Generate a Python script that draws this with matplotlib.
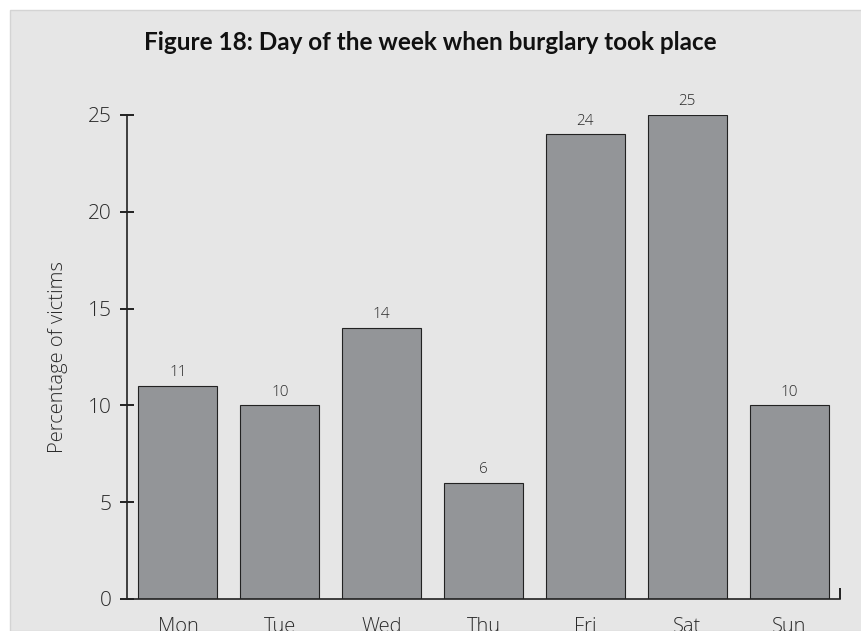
import numpy as np
import matplotlib.pyplot as plt
from matplotlib.patches import Rectangle

days = ['Mon', 'Tue', 'Wed', 'Thu', 'Fri', 'Sat', 'Sun']
percent = [11, 10, 14, 6, 24, 25, 10]
yticks = [0, 5, 10, 15, 20, 25]

plt.rcParams['font.family'] = ['Open Sans', 'DejaVu Sans']

fig = plt.figure(figsize=(8.61, 6.31), dpi=100, facecolor='white')
# grey panel behind the chart
fig.patches.append(Rectangle((10 / 861, 0), 1, 1 - 10 / 631, transform=fig.transFigure,
                             facecolor='#e6e6e6', edgecolor='#d4d4d4', linewidth=1, zorder=-5))

ax = fig.add_axes([127 / 861, 1 - 599 / 631, (840 - 127) / 861, (599 - 115) / 631])
ax.set_facecolor('none')
ax.set_zorder(2)

x = np.arange(len(days))
bars = ax.bar(x, percent, width=0.775, color='#939598', edgecolor='#222222', linewidth=0.8, zorder=2)
for xi, v in zip(x, percent):
    ax.text(xi, v + 0.3, str(v), ha='center', va='bottom', fontsize=11, color='#2a2a2a', fontweight='light')

ax.set_xlim(-0.5, 6.5)
ax.set_ylim(0, 25)
ax.set_yticks(yticks)
ax.set_xticks(x)
ax.set_xticklabels(days, fontsize=14.5, color='#2a2a2a', fontweight='light')
ax.tick_params(axis='x', length=0, pad=13)
ax.tick_params(axis='y', direction='inout', length=10, width=1.2, labelsize=15, labelcolor='#2a2a2a', pad=6)
for lab in ax.get_yticklabels():
    lab.set_fontweight('light')
ax.set_xticks([6.5], minor=True)
ax.tick_params(axis='x', which='minor', direction='in', length=8, width=1.2)

for s in ['top', 'right']:
    ax.spines[s].set_visible(False)
ax.spines['left'].set_linewidth(1.2)
ax.spines['bottom'].set_linewidth(1.2)
ax.spines['left'].set_color('#222222')
ax.spines['bottom'].set_color('#222222')

ax.set_ylabel('Percentage of victims', fontsize=14.5, color='#2a2a2a', fontweight='light', labelpad=14)

fig.text(0.5, 1 - 43 / 631, 'Figure 18: Day of the week when burglary took place',
         ha='center', va='center', fontsize=17.5, fontweight='bold', color='#111111',
         family=['Lato', 'DejaVu Sans'])

fig.savefig('out.png', dpi=100, facecolor='white')
